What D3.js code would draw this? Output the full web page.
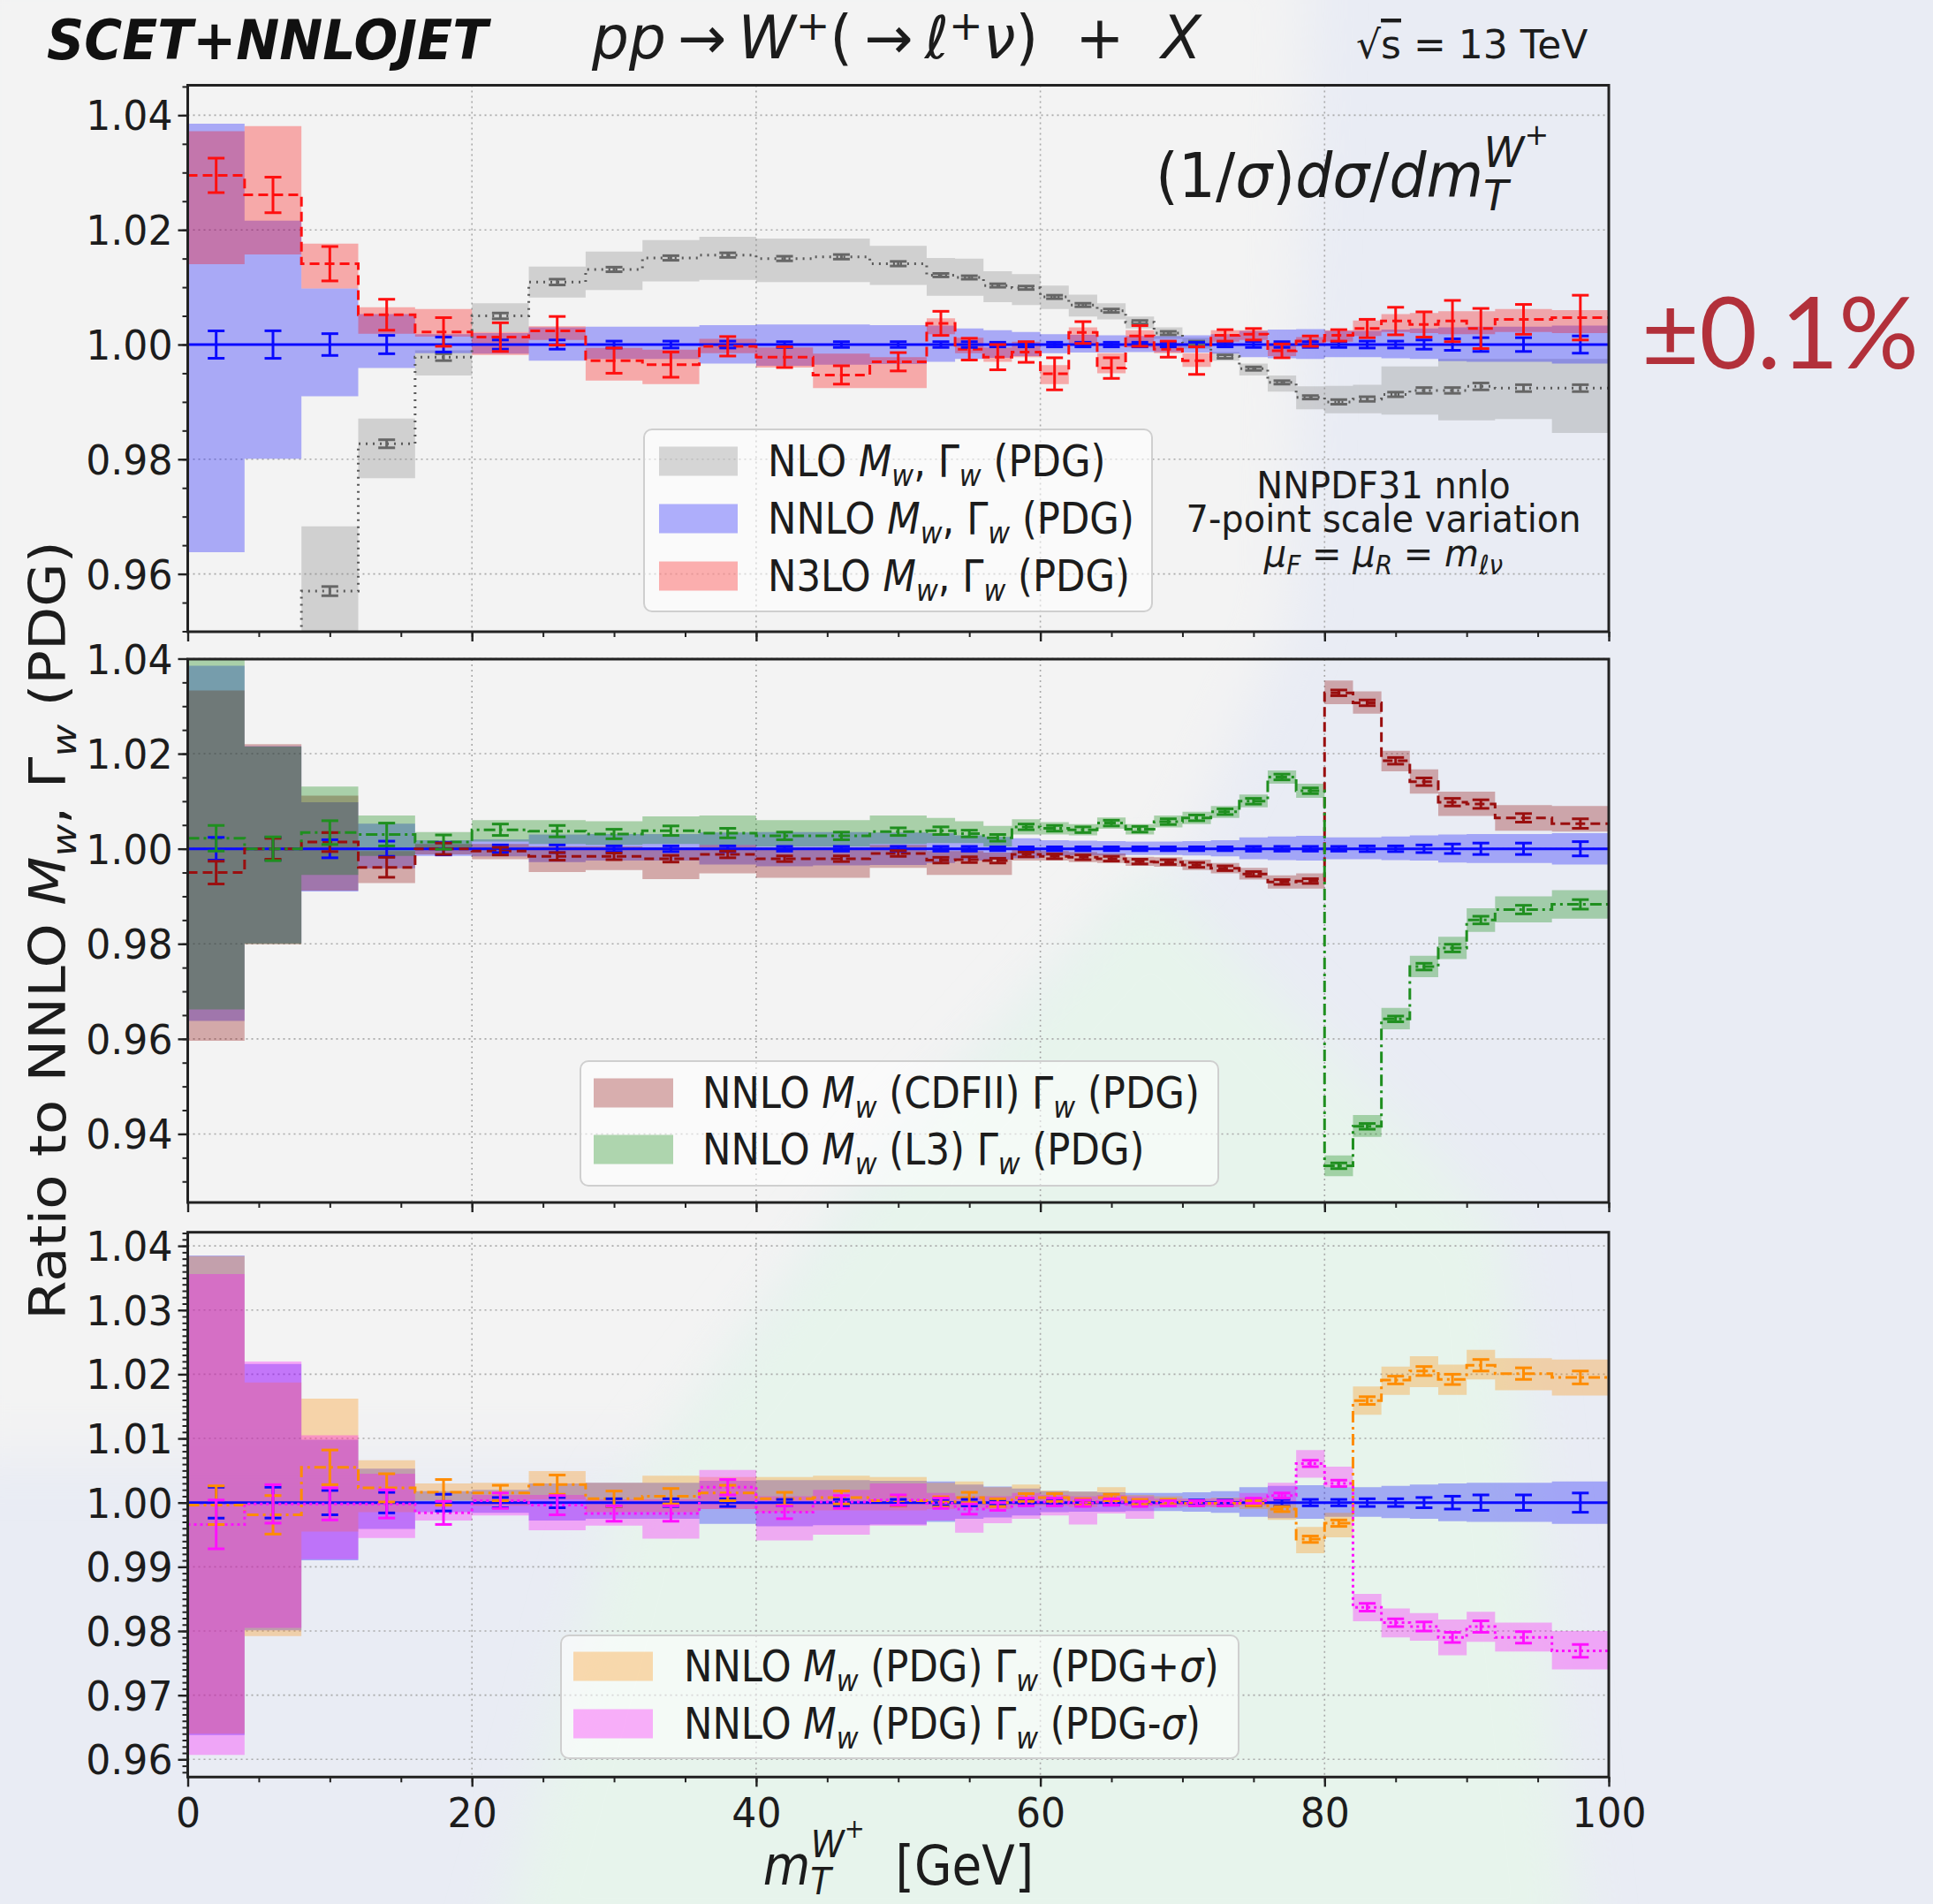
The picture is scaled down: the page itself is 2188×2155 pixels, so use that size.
<!DOCTYPE html>
<html><head><meta charset="utf-8">
<script src="https://cdn.jsdelivr.net/npm/d3@7"></script>
<style>html,body{margin:0;padding:0;background:#e9ecf4;} svg{display:block}</style>
</head><body><div id="chart"></div>
<script>
// transverse-mass bins (GeV)
const binEdges = [0,4,8,12,16,20,24,28,32,36,40,44,48,52,54,56,58,60,62,64,66,68,70,72,74,76,78,80,82,84,86,88,90,92,96,100];

// NNLO, M_w and Gamma_w from PDG (reference, drawn in every panel)
const nnloC  = [1,1,1,1,1,1,1,1,1,1,1,1,1,1,1,1,1,1,1,1,1,1,1,1,1,1,1,1,1,1,1,1,1,1,1];
const nnloLo = [0.9638,0.9801,0.9910,0.9959,0.9985,0.9984,0.9972,0.9975,0.9975,0.9967,0.9963,0.9965,0.9966,0.9970,0.9975,0.9977,0.9980,0.9985,0.9986,0.9986,0.9987,0.9987,0.9986,0.9984,0.9978,0.9976,0.9975,0.9978,0.9978,0.9976,0.9975,0.9971,0.9970,0.9970,0.9967];
const nnloHi = [1.0385,1.0216,1.0098,1.0053,1.0018,1.0020,1.0030,1.0031,1.0031,1.0034,1.0035,1.0035,1.0034,1.0033,1.0028,1.0025,1.0022,1.0018,1.0017,1.0016,1.0015,1.0015,1.0016,1.0018,1.0024,1.0026,1.0027,1.0024,1.0024,1.0026,1.0028,1.0030,1.0031,1.0031,1.0033];
const nnloErr= [0.0024,0.0024,0.0019,0.0016,0.0013,0.0008,0.0008,0.0006,0.0006,0.0006,0.0005,0.0005,0.0005,0.0005,0.0005,0.0004,0.0004,0.0004,0.0004,0.0004,0.0004,0.0004,0.0004,0.0004,0.0005,0.0005,0.0005,0.0005,0.0006,0.0006,0.0008,0.0010,0.0012,0.0012,0.0015];

// NLO
const nloC  = [0.925,0.940,0.9570,0.9827,0.9978,1.0050,1.0109,1.0131,1.0151,1.0156,1.0150,1.0153,1.0141,1.0121,1.0117,1.0103,1.0099,1.0083,1.0069,1.0059,1.0039,1.0020,1.0003,0.9979,0.9958,0.9934,0.9908,0.9900,0.9905,0.9913,0.9920,0.9920,0.9927,0.9924,0.9924];
const nloLo = [0.912,0.930,0.9450,0.9767,0.9946,1.0022,1.0082,1.0095,1.0110,1.0113,1.0109,1.0109,1.0104,1.0085,1.0085,1.0074,1.0069,1.0062,1.0049,1.0044,1.0028,1.0010,0.9993,0.9972,0.9946,0.9918,0.9887,0.9880,0.9880,0.9878,0.9878,0.9868,0.9868,0.9870,0.9846];
const nloHi = [0.938,0.948,0.9683,0.9871,0.9990,1.0072,1.0136,1.0162,1.0182,1.0188,1.0185,1.0185,1.0172,1.0151,1.0150,1.0128,1.0123,1.0103,1.0087,1.0072,1.0049,1.0030,1.0012,0.9987,0.9967,0.9946,0.9927,0.9928,0.9930,0.9962,0.9962,0.9975,0.9975,0.9975,0.9975];
const nloErr= [0.0008,0.0008,0.0008,0.0007,0.0006,0.0005,0.0005,0.0004,0.0004,0.0004,0.0004,0.0004,0.0004,0.0003,0.0003,0.0003,0.0003,0.0003,0.0003,0.0003,0.0003,0.0003,0.0003,0.0003,0.0003,0.0003,0.0003,0.0004,0.0004,0.0004,0.0005,0.0005,0.0006,0.0006,0.0006];

// N3LO
const n3loC  = [1.0295,1.0261,1.0141,1.0052,1.0022,1.0013,1.0024,0.9972,0.9965,0.9997,0.9978,0.9947,0.9970,1.0037,0.9992,0.9978,0.9987,0.9949,1.0021,0.9959,1.0015,0.9992,0.9972,1.0016,1.0018,0.9989,1.0006,1.0016,1.0028,1.0041,1.0035,1.0041,1.0028,1.0044,1.0047];
const n3loLo = [1.0140,1.0157,1.0098,1.0019,1.0014,0.9982,1.0008,0.9937,0.9931,0.9985,0.9960,0.9924,0.9924,1.0018,0.9985,0.9970,0.9978,0.9931,1.0000,0.9950,0.9995,0.9985,0.9961,1.0005,1.0008,0.9980,0.9998,1.0005,1.0015,1.0022,1.0020,1.0018,1.0018,1.0022,1.0020];
const n3loHi = [1.0372,1.0381,1.0176,1.0065,1.0062,1.0022,1.0032,0.9994,0.9991,1.0010,0.9995,0.9984,0.9978,1.0046,1.0012,0.9995,1.0005,0.9964,1.0030,0.9985,1.0025,1.0003,0.9985,1.0025,1.0025,0.9998,1.0013,1.0025,1.0042,1.0053,1.0055,1.0058,1.0058,1.0062,1.0060];
const n3loErr= [0.0030,0.0031,0.0030,0.0027,0.0025,0.0025,0.0025,0.0022,0.0022,0.0017,0.0018,0.0016,0.0016,0.0021,0.0019,0.0022,0.0018,0.0028,0.0019,0.0018,0.0018,0.0014,0.0024,0.0010,0.0010,0.0012,0.0009,0.0010,0.0016,0.0024,0.0022,0.0036,0.0035,0.0026,0.0039];

// NNLO, M_w (CDFII)
const cdfC  = [0.9950,1.0000,1.0014,0.9961,1.0000,0.9995,0.9984,0.9984,0.9979,0.9988,0.9979,0.9979,0.9990,0.9976,0.9977,0.9975,0.9988,0.9984,0.9982,0.9979,0.9973,0.9972,0.9966,0.9959,0.9947,0.9930,0.9932,1.0328,1.0307,1.0185,1.0141,1.0098,1.0094,1.0065,1.0053];
const cdfLo = [0.9596,0.9799,0.9912,0.9928,0.9988,0.9978,0.9951,0.9955,0.9936,0.9948,0.9939,0.9939,0.9960,0.9945,0.9945,0.9945,0.9975,0.9975,0.9972,0.9970,0.9964,0.9962,0.9955,0.9948,0.9935,0.9916,0.9916,1.0304,1.0284,1.0163,1.0116,1.0069,1.0069,1.0038,1.0036];
const cdfHi = [1.0333,1.0220,1.0112,0.9995,1.0010,1.0010,1.0005,1.0005,1.0003,1.0008,1.0003,1.0003,1.0008,0.9995,0.9995,0.9992,1.0000,0.9995,0.9993,0.9990,0.9983,0.9982,0.9977,0.9970,0.9960,0.9944,0.9948,1.0354,1.0331,1.0206,1.0167,1.0120,1.0120,1.0092,1.0090];
const cdfErr= [0.0024,0.0022,0.0020,0.0021,0.0012,0.0008,0.0008,0.0007,0.0007,0.0007,0.0006,0.0006,0.0006,0.0006,0.0006,0.0005,0.0005,0.0005,0.0005,0.0005,0.0005,0.0005,0.0005,0.0005,0.0005,0.0005,0.0005,0.0006,0.0006,0.0007,0.0008,0.0008,0.0009,0.0009,0.0010];

// NNLO, M_w (L3)
const l3C  = [1.0022,1.0000,1.0034,1.0030,1.0014,1.0040,1.0037,1.0031,1.0038,1.0033,1.0027,1.0027,1.0036,1.0038,1.0032,1.0023,1.0046,1.0043,1.0040,1.0054,1.0041,1.0057,1.0065,1.0078,1.0100,1.0151,1.0122,0.9333,0.9416,0.9642,0.9752,0.9791,0.9850,0.9872,0.9883];
const l3Lo = [0.9662,0.9800,0.9945,0.9985,1.0000,1.0015,1.0010,1.0008,1.0010,1.0008,1.0005,1.0005,1.0010,1.0012,1.0012,1.0005,1.0030,1.0030,1.0028,1.0042,1.0030,1.0045,1.0052,1.0065,1.0087,1.0137,1.0107,0.9311,0.9394,0.9620,0.9730,0.9768,0.9825,0.9845,0.9853];
const l3Hi = [1.0420,1.0215,1.0131,1.0070,1.0035,1.0060,1.0060,1.0058,1.0068,1.0070,1.0060,1.0060,1.0070,1.0065,1.0058,1.0048,1.0062,1.0056,1.0052,1.0066,1.0052,1.0070,1.0078,1.0090,1.0114,1.0165,1.0137,0.9355,0.9440,0.9665,0.9775,0.9815,0.9875,0.9900,0.9913];
const l3Err= [0.0027,0.0025,0.0025,0.0024,0.0015,0.0012,0.0012,0.0010,0.0010,0.0010,0.0008,0.0008,0.0008,0.0008,0.0007,0.0007,0.0006,0.0006,0.0006,0.0006,0.0006,0.0006,0.0006,0.0006,0.0006,0.0006,0.0006,0.0006,0.0006,0.0006,0.0007,0.0008,0.0008,0.0009,0.0010];

// NNLO, Gamma_w (PDG + sigma)
const gpC  = [0.9996,0.9981,1.0055,1.0023,1.0016,1.0015,1.0028,1.0006,1.0010,1.0015,1.0006,1.0008,1.0003,1.0001,1.0008,1.0000,1.0008,1.0008,1.0001,1.0008,1.0001,1.0001,0.9999,0.9999,0.9999,0.9990,0.9943,0.9968,1.0159,1.0191,1.0205,1.0192,1.0214,1.0201,1.0195];
const gpLo = [0.9640,0.9792,0.9955,0.9985,1.0003,0.9995,1.0005,0.9985,0.9985,0.9990,0.9985,0.9988,0.9988,0.9990,0.9992,0.9990,0.9995,0.9995,0.9993,0.9998,0.9994,0.9995,0.9994,0.9993,0.9990,0.9973,0.9921,0.9946,1.0137,1.0168,1.0180,1.0168,1.0192,1.0175,1.0167];
const gpHi = [1.0384,1.0187,1.0162,1.0066,1.0030,1.0031,1.0049,1.0031,1.0042,1.0040,1.0040,1.0042,1.0040,1.0031,1.0033,1.0024,1.0028,1.0019,1.0017,1.0024,1.0012,1.0010,1.0006,1.0008,1.0008,1.0003,0.9962,0.9984,1.0181,1.0212,1.0228,1.0215,1.0238,1.0225,1.0223];
const gpErr= [0.0030,0.0030,0.0027,0.0022,0.0020,0.0012,0.0015,0.0012,0.0012,0.0012,0.0010,0.0010,0.0008,0.0008,0.0008,0.0006,0.0006,0.0006,0.0005,0.0005,0.0004,0.0004,0.0004,0.0004,0.0004,0.0004,0.0005,0.0005,0.0006,0.0006,0.0007,0.0008,0.0009,0.0009,0.0010];

// NNLO, Gamma_w (PDG - sigma)
const gmC  = [0.9966,0.9998,0.9998,0.9998,0.9984,1.0003,0.9996,0.9983,0.9983,1.0024,0.9985,1.0001,1.0004,0.9999,0.9990,0.9994,1.0001,1.0001,0.9999,1.0001,0.9998,0.9999,0.9999,0.9999,1.0003,1.0011,1.0061,1.0030,0.9837,0.9813,0.9807,0.9790,0.9807,0.9790,0.9769];
const gmLo = [0.9607,0.9805,0.9912,0.9945,0.9972,0.9980,0.9957,0.9964,0.9944,0.9990,0.9941,0.9950,0.9964,0.9972,0.9953,0.9968,0.9975,0.9980,0.9966,0.9983,0.9975,0.9992,0.9993,0.9993,0.9995,0.9998,1.0039,1.0024,0.9815,0.9790,0.9785,0.9762,0.9783,0.9768,0.9740];
const gmHi = [1.0356,1.0220,1.0105,1.0045,1.0000,1.0012,1.0012,1.0005,1.0005,1.0051,1.0010,1.0020,1.0030,1.0015,1.0010,1.0010,1.0015,1.0012,1.0010,1.0012,1.0010,1.0006,1.0006,1.0006,1.0015,1.0031,1.0082,1.0056,0.9858,0.9835,0.9828,0.9818,0.9830,0.9813,0.9800];
const gmErr= [0.0038,0.0030,0.0025,0.0022,0.0018,0.0012,0.0015,0.0012,0.0012,0.0012,0.0010,0.0010,0.0008,0.0008,0.0008,0.0006,0.0006,0.0006,0.0005,0.0005,0.0004,0.0004,0.0004,0.0004,0.0004,0.0004,0.0005,0.0005,0.0006,0.0006,0.0007,0.0008,0.0009,0.0009,0.0010];

// tick labels
const xTicks = [0,20,40,60,80,100];
const yTicksTop = [0.96,0.98,1.00,1.02,1.04];
const yTicksMid = [0.94,0.96,0.98,1.00,1.02,1.04];
const yTicksBot = [0.96,0.97,0.98,0.99,1.00,1.01,1.02,1.03,1.04];

const W = 2188, H = 2155;
const FONT = "'DejaVu Sans', sans-serif";
const SX = 0.885;   // horizontal squeeze of the figure

const svg = d3.select('#chart').append('svg').attr('width', W).attr('height', H);
const defs = svg.append('defs');
defs.append('filter').attr('id', 'soft').attr('x', '-20%').attr('y', '-20%').attr('width', '140%').attr('height', '140%')
  .append('feGaussianBlur').attr('stdDeviation', 30);

// slide backdrop
svg.append('rect').attr('width', W).attr('height', H).attr('fill', '#e9ecf4');
svg.append('path').attr('filter', 'url(#soft)').attr('fill', '#f3f3f3')
  .attr('d', 'M-60,-60 L1480,-60 L1460,700 L1340,960 L1010,1300 L760,1650 L-60,1650 Z');
svg.append('path').attr('filter', 'url(#soft)').attr('fill', '#e7f4ec')
  .attr('d', 'M1300,985 L1700,1390 L1790,2220 L560,2220 L700,1700 L1010,1300 Z');

// append styled tspans (italic / sub / sup) to a text element
function addSegs(t, segs, size, o) {
  const subOff = o.subOff !== undefined ? o.subOff : 0.22;
  const supOff = o.supOff !== undefined ? o.supOff : -0.36;
  let cur = 0;
  segs.forEach((s, j) => {
    const ts = t.append('tspan').text(s.t);
    let off = 0, sc = 1;
    if (s.sub) { off = subOff; sc = 0.7; }
    if (s.sup) { off = supOff; sc = 0.7; }
    if (s.o !== undefined) off = s.o;
    if (s.s !== undefined) sc = s.s;
    let dy = (off - cur) * size;
    if (j === 0 && o.lineDy) { ts.attr('x', 0); dy += o.lineDy; }
    if (Math.abs(dy) > 1e-6) ts.attr('dy', dy.toFixed(2));
    cur = off;
    if (sc !== 1) ts.style('font-size', (size * sc) + 'px');
    if (s.i) ts.style('font-style', 'italic');
    if (s.dx) ts.attr('dx', (s.dx * size).toFixed(2));
    if (s.ol) ts.style('text-decoration', 'overline');
  });
  return cur;
}

function rich(parent, x, y, segs, o) {
  const size = o.size;
  const sx = o.sx !== undefined ? o.sx : SX;
  const tr = o.rotate ? `translate(${x},${y}) rotate(-90) scale(1,${sx})`
                      : `translate(${x},${y}) scale(${sx},1)`;
  const t = parent.append('text').attr('transform', tr)
    .attr('text-anchor', o.anchor || 'start')
    .style('font-family', o.family || FONT)
    .style('font-size', size + 'px')
    .style('fill', o.fill || '#1c1c1c');
  if (o.weight) t.style('font-weight', o.weight);
  if (o.italic) t.style('font-style', 'italic');
  addSegs(t, segs, size, o);
  return t;
}

const x = d3.scaleLinear().domain([0, 100]).range([212.5, 1821]);
const nb = binEdges.length - 1;
const bins = d3.range(nb).map(i => ({ a: binEdges[i], b: binEdges[i + 1], m: (binEdges[i] + binEdges[i + 1]) / 2 }));

const S = {
  nlo:  { c: nloC,  lo: nloLo,  hi: nloHi,  err: nloErr,  band: '#808080', line: '#5a5a5a', dash: '2,6',  op: 0.3 },
  nnlo: { c: nnloC, lo: nnloLo, hi: nnloHi, err: nnloErr, band: '#0000ff', line: '#0a0aff', dash: null,   op: 0.3 },
  n3lo: { c: n3loC, lo: n3loLo, hi: n3loHi, err: n3loErr, band: '#ff0000', line: '#ff1010', dash: '11,6', op: 0.3 },
  cdf:  { c: cdfC,  lo: cdfLo,  hi: cdfHi,  err: cdfErr,  band: '#8b0000', line: '#9a0f0f', dash: '11,6', op: 0.3 },
  l3:   { c: l3C,   lo: l3Lo,   hi: l3Hi,   err: l3Err,   band: '#008000', line: '#1f8f1f', dash: '13,5,3,5', op: 0.3 },
  gp:   { c: gpC,   lo: gpLo,   hi: gpHi,   err: gpErr,   band: '#ff8c00', line: '#ff8c00', dash: '13,5,3,5', op: 0.3 },
  gm:   { c: gmC,   lo: gmLo,   hi: gmHi,   err: gmErr,   band: '#ff00ff', line: '#ff10ff', dash: '3,4',  op: 0.3 }
};

const M = s => ({ t: s, i: 1 });
const SUB = s => ({ t: s, i: 1, sub: 1 });

const panels = [
  { y0: 96.5, y1: 715, dom: [0.94992, 1.04522], ticks: yTicksTop, minor: 0.005, series: ['nlo', 'nnlo', 'n3lo'],
    legend: { box: [729, 486, 1304, 692], sw: [746, 835], tx: 869, rows: [522, 587, 652],
      items: [
        ['nlo',  [{ t: 'NLO ' }, M('M'), SUB('w'), { t: ', Γ' }, SUB('w'), { t: ' (PDG)' }]],
        ['nnlo', [{ t: 'NNLO ' }, M('M'), SUB('w'), { t: ', Γ' }, SUB('w'), { t: ' (PDG)' }]],
        ['n3lo', [{ t: 'N3LO ' }, M('M'), SUB('w'), { t: ', Γ' }, SUB('w'), { t: ' (PDG)' }]]
      ] } },
  { y0: 746, y1: 1361, dom: [0.92558, 1.0399], ticks: yTicksMid, minor: 0.005, series: ['nnlo', 'cdf', 'l3'],
    legend: { box: [657, 1201, 1379, 1342], sw: [672, 762], tx: 795, rows: [1237, 1301],
      items: [
        ['cdf', [{ t: 'NNLO ' }, M('M'), SUB('w'), { t: ' (CDFII) Γ' }, SUB('w'), { t: ' (PDG)' }]],
        ['l3',  [{ t: 'NNLO ' }, M('M'), SUB('w'), { t: ' (L3) Γ' }, SUB('w'), { t: ' (PDG)' }]]
      ] } },
  { y0: 1394.7, y1: 2011.3, dom: [0.95725, 1.04212], ticks: yTicksBot, minor: 0.001, series: ['nnlo', 'gp', 'gm'],
    legend: { box: [635, 1851, 1402, 1990], sw: [649, 739], tx: 774, rows: [1886, 1951],
      items: [
        ['gp', [{ t: 'NNLO ' }, M('M'), SUB('w'), { t: ' (PDG) Γ' }, SUB('w'), { t: ' (PDG+' }, M('σ'), { t: ')' }]],
        ['gm', [{ t: 'NNLO ' }, M('M'), SUB('w'), { t: ' (PDG) Γ' }, SUB('w'), { t: ' (PDG-' }, M('σ'), { t: ')' }]]
      ] } }
];

const TICK_SX = 0.96, TICK_FS = 46;

panels.forEach((p, pi) => {
  const y = d3.scaleLinear().domain(p.dom).range([p.y1, p.y0]);
  const g = svg.append('g');
  const cid = 'clip' + pi;
  defs.append('clipPath').attr('id', cid).append('rect')
    .attr('x', x(0)).attr('y', p.y0).attr('width', x(100) - x(0)).attr('height', p.y1 - p.y0);

  // grid
  const grid = g.append('g').attr('stroke', '#a9a9a9').attr('stroke-width', 1.6).attr('stroke-dasharray', '2,4');
  p.ticks.forEach(v => grid.append('line').attr('x1', x(0)).attr('x2', x(100)).attr('y1', y(v)).attr('y2', y(v)));
  [20, 40, 60, 80].forEach(v => grid.append('line').attr('x1', x(v)).attr('x2', x(v)).attr('y1', p.y0).attr('y2', p.y1));

  const plot = g.append('g').attr('clip-path', `url(#${cid})`);
  const keys = p.series;

  // scale-variation bands
  keys.forEach(k => {
    const s = S[k];
    const pts = [];
    bins.forEach((b, i) => { pts.push({ x: b.a, lo: s.lo[i], hi: s.hi[i] }); pts.push({ x: b.b, lo: s.lo[i], hi: s.hi[i] }); });
    const area = d3.area().x(d => x(d.x)).y0(d => y(d.lo)).y1(d => y(d.hi));
    plot.append('path').attr('d', area(pts)).attr('fill', s.band).attr('fill-opacity', s.op);
  });

  // central step lines
  keys.forEach(k => {
    const s = S[k];
    const pts = [];
    bins.forEach((b, i) => { pts.push({ x: b.a, v: s.c[i] }); pts.push({ x: b.b, v: s.c[i] }); });
    const line = d3.line().x(d => x(d.x)).y(d => y(d.v));
    plot.append('path').attr('d', line(pts)).attr('fill', 'none')
      .attr('stroke', s.line).attr('stroke-width', 3)
      .attr('stroke-dasharray', s.dash);
  });

  // statistical error bars
  keys.forEach(k => {
    const s = S[k];
    const eg = plot.append('g').attr('stroke', k === 'nlo' ? '#666' : s.line).attr('stroke-width', 3);
    bins.forEach((b, i) => {
      const cx = x(b.m), ya = y(s.c[i] - s.err[i]), yb = y(s.c[i] + s.err[i]);
      eg.append('line').attr('x1', cx).attr('x2', cx).attr('y1', ya).attr('y2', yb);
      eg.append('line').attr('x1', cx - 9.5).attr('x2', cx + 9.5).attr('y1', ya).attr('y2', ya);
      eg.append('line').attr('x1', cx - 9.5).attr('x2', cx + 9.5).attr('y1', yb).attr('y2', yb);
    });
  });

  // axes
  const yMinor = d3.range(Math.ceil(p.dom[0] / p.minor) * p.minor, p.dom[1], p.minor);
  g.append('g').attr('transform', `translate(${x(0)},0)`)
    .call(d3.axisLeft(y).tickValues(yMinor).tickSize(6).tickFormat(''))
    .call(a => a.select('.domain').remove())
    .call(a => a.selectAll('line').attr('stroke', '#222').attr('stroke-width', 2));
  g.append('g').attr('transform', `translate(${x(0)},0)`)
    .call(d3.axisLeft(y).tickValues(p.ticks).tickSize(11).tickFormat(d3.format('.2f')))
    .call(a => a.select('.domain').remove())
    .call(a => a.selectAll('line').attr('stroke', '#222').attr('stroke-width', 2.4))
    .call(a => a.selectAll('text').attr('x', -17 / TICK_SX).attr('dy', '0.36em')
      .attr('transform', `scale(${TICK_SX},1)`)
      .style('font-family', FONT).style('font-size', TICK_FS + 'px').attr('fill', '#1c1c1c'));

  const xMinor = d3.range(0, 101, 5);
  g.append('g').attr('transform', `translate(0,${p.y1})`)
    .call(d3.axisBottom(x).tickValues(xMinor).tickSize(6).tickFormat(''))
    .call(a => a.select('.domain').remove())
    .call(a => a.selectAll('line').attr('stroke', '#222').attr('stroke-width', 2));
  const xa = g.append('g').attr('transform', `translate(0,${p.y1})`)
    .call(d3.axisBottom(x).tickValues(xTicks).tickSize(11).tickFormat(pi === 2 ? d3.format('d') : ''))
    .call(a => a.select('.domain').remove())
    .call(a => a.selectAll('line').attr('stroke', '#222').attr('stroke-width', 2.4));
  xa.selectAll('text').attr('y', 24).attr('dy', '0.71em').attr('transform', `scale(${TICK_SX},1)`)
    .style('font-family', FONT).style('font-size', TICK_FS + 'px').attr('fill', '#1c1c1c');

  // frame
  g.append('rect').attr('x', x(0)).attr('y', p.y0).attr('width', x(100) - x(0)).attr('height', p.y1 - p.y0)
    .attr('fill', 'none').attr('stroke', '#222').attr('stroke-width', 3);

  // legend
  const L = p.legend;
  g.append('rect').attr('x', L.box[0]).attr('y', L.box[1]).attr('width', L.box[2] - L.box[0]).attr('height', L.box[3] - L.box[1])
    .attr('rx', 9).attr('fill', '#ffffff').attr('fill-opacity', 0.55).attr('stroke', '#cfcfcf').attr('stroke-width', 2);
  L.items.forEach(([k, segs], r) => {
    const s = S[k];
    g.append('rect').attr('x', L.sw[0]).attr('y', L.rows[r] - 16.5).attr('width', L.sw[1] - L.sw[0]).attr('height', 33)
      .attr('fill', s.band).attr('fill-opacity', s.op);
    rich(g, L.tx, L.rows[r] + 17, segs, { size: 49 });
  });
});

// headings
rich(svg, 53, 67, [{ t: 'SCET+NNLOJET' }], { size: 63, sx: 0.93, weight: 'bold', italic: true, fill: '#111' });
rich(svg, 670, 66, [M('pp'), { t: '\u2009\u2192\u2009' }, M('W'), { t: '+', sup: 1 }, { t: '(\u2009\u2192\u2009' }, M('\u2113'), { t: '+', sup: 1 },
  M('\u03bd'), { t: ')\u00a0\u00a0+\u00a0\u00a0' }, M('X')], { size: 67, sx: 0.985, supOff: -0.32 });
rich(svg, 1535, 66, [{ t: '\u221a' }, { t: 's', ol: 1 }, { t: ' = 13 TeV' }], { size: 44, sx: 1.0 });

// observable label inside top panel
rich(svg, 1308, 223, [{ t: '(1/' }, M('\u03c3'), { t: ')' }, M('d\u03c3'), { t: '/' }, M('dm'), { t: 'T', i: 1, sub: 1 },
  { t: 'W', i: 1, sup: 1, o: -0.5, dx: -0.42 }, { t: '+', s: 0.5, o: -0.85 }], { size: 69, sx: 0.96 });

// PDF / scale annotation: one centred three-line block
{
  const size = 43;
  const t = svg.append('text').attr('transform', `translate(1566,564) scale(0.93,1)`)
    .attr('text-anchor', 'middle').style('font-family', FONT).style('font-size', size + 'px').style('fill', '#1c1c1c');
  t.append('tspan').attr('x', 0).text('NNPDF31 nnlo');
  t.append('tspan').attr('x', 0).attr('dy', 38).text('7-point scale variation');
  addSegs(t, [M('\u03bc'), SUB('F'), { t: ' = ' }, M('\u03bc'), SUB('R'), { t: ' = ' }, M('m'), SUB('\u2113\u03bd')],
    size, { lineDy: 39 });
}

// axis titles
rich(svg, 74, 1053, [{ t: 'Ratio to NNLO ' }, M('M'), SUB('w'), { t: ', Γ' }, SUB('w'), { t: ' (PDG)' }],
  { size: 64, anchor: 'middle', rotate: true });
rich(svg, 1017, 2133, [M('m'), { t: 'T', i: 1, sub: 1 }, { t: 'W', i: 1, sup: 1, o: -0.5, dx: -0.42 }, { t: '+', s: 0.5, o: -0.85 },
  { t: '\u00a0\u00a0[GeV]', o: 0 }], { size: 62, anchor: 'middle', subOff: 0.17 });

// precision note
svg.append('text').attr('x', 1858).attr('y', 417).text('\u00b10.1%')
  .style('font-family', "Lato, 'Open Sans', sans-serif").style('font-size', '113px').attr('fill', '#b2303a');
</script></body></html>
